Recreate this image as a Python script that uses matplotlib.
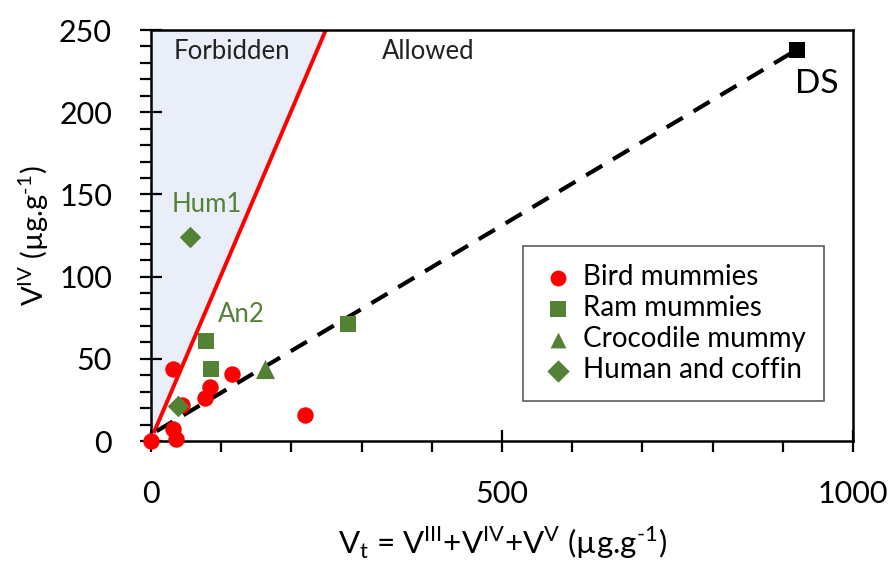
import matplotlib
matplotlib.use("Agg")
import matplotlib.pyplot as plt
from matplotlib.ticker import MultipleLocator

plt.rcParams["font.family"] = ["Lato", "DejaVu Sans"]
plt.rcParams["mathtext.fontset"] = "custom"
plt.rcParams["mathtext.rm"] = "Lato"

GREEN = "#548235"

# data (Vt, V_IV in ug/g)
bird_x = [0, 32, 32, 35, 44, 77, 84, 115, 219]
bird_y = [0, 44, 7, 1, 22, 26, 33, 41, 16]
ram_x = [78, 85, 281]
ram_y = [61, 44, 71]
croc_x = [162]
croc_y = [44]
human_x = [39, 56]
human_y = [21, 124]
ds_x, ds_y = 920, 238

limit_x = [5, 249]          # V_IV = Vt limit
limit_y = [6, 250]
trend_x = [8, ds_x]
trend_y = [6, ds_y]

fig = plt.figure(figsize=(8.96, 5.61), dpi=100)
ax = fig.add_axes([0.1685, 0.2139, 0.952 - 0.1685, 0.9465 - 0.2139])

# forbidden zone
ax.fill_betweenx([0, 250], [0, 0], [0, 250], color="#E9EEF8", zorder=0)
ax.plot(limit_x, limit_y, color="#FF0000", lw=2.8, zorder=2)
ax.plot(trend_x, trend_y, color="black", lw=3, ls=(0, (4.5, 3)), zorder=2)

ax.scatter(bird_x, bird_y, s=140, marker="o", color="#FF0000", lw=0,
           label="Bird mummies", zorder=3, clip_on=False)
ax.scatter(ram_x, ram_y, s=140, marker="s", color=GREEN, lw=0,
           label="Ram mummies", zorder=3)
ax.scatter(croc_x, croc_y, s=190, marker="^", color=GREEN, lw=0,
           label="Crocodile mummy", zorder=3)
ax.scatter(human_x, human_y, s=120, marker="D", color=GREEN, lw=0,
           label="Human and coffin", zorder=3)
ax.scatter([ds_x], [ds_y], s=140, marker="s", color="black", lw=0, zorder=3)

ax.text(115, 237, "Forbidden", fontsize=18.5, ha="center", va="center", color="#222222")
ax.text(395, 237, "Allowed", fontsize=18.5, ha="center", va="center", color="#222222")
ax.text(948, 217, "DS", fontsize=24, ha="center", va="center")
ax.text(79, 144, "Hum1", fontsize=18.5, ha="center", va="center", color=GREEN)
ax.text(128, 77, "An2", fontsize=18.5, ha="center", va="center", color=GREEN)

ax.set_xlim(0, 1000)
ax.set_ylim(0, 250)
ax.xaxis.set_major_locator(MultipleLocator(500))
ax.xaxis.set_minor_locator(MultipleLocator(100))
ax.yaxis.set_major_locator(MultipleLocator(50))
ax.yaxis.set_minor_locator(MultipleLocator(10))
ax.tick_params(which="major", direction="inout", length=16, width=1.6, labelsize=22)
ax.tick_params(which="minor", direction="out", length=8, width=1.6)
ax.tick_params(axis="y", which="major", pad=20)
ax.tick_params(axis="x", which="major", pad=20)
for sp in ax.spines.values():
    sp.set_linewidth(1.8)

ax.set_xlabel(r"V$_\mathregular{t}$ = V$^\mathregular{III}$+V$^\mathregular{IV}$+V$^\mathregular{V}$ (µg.g$^\mathregular{\text{-}1}$)",
              fontsize=22.5, labelpad=12)
ax.set_ylabel(r"V$^\mathregular{IV}$ (µg.g$^\mathregular{\text{-}1}$)", fontsize=21, labelpad=6)

leg = ax.legend(loc="upper left", bbox_to_anchor=(0.53, 0.474), borderaxespad=0,
                fontsize=20, frameon=True, fancybox=False, edgecolor="#333333",
                handletextpad=0.3, borderpad=0.65, labelspacing=0.18,
                handlelength=1.2, scatterpoints=1)
leg.get_frame().set_linewidth(1.2)
for h in leg.legend_handles:
    h.set_sizes([130])

fig.savefig("out.png", dpi=100)
